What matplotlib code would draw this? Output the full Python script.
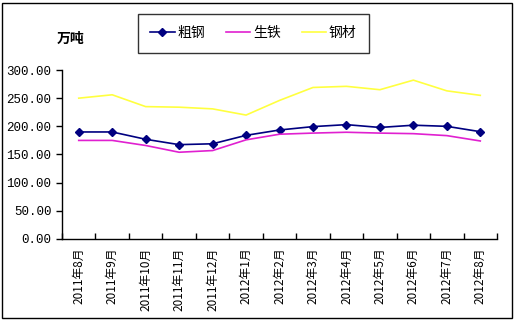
import matplotlib
matplotlib.use('Agg')
import matplotlib.pyplot as plt
from matplotlib.patches import Rectangle
from matplotlib.ticker import FixedLocator, FormatStrFormatter
import numpy as np

plt.rcParams['font.family'] = ['Noto Sans CJK SC', 'DejaVu Sans']

months = ['2011年8月', '2011年9月', '2011年10月', '2011年11月', '2011年12月',
          '2012年1月', '2012年2月', '2012年3月', '2012年4月', '2012年5月',
          '2012年6月', '2012年7月', '2012年8月']
crude_steel = [190, 190, 177, 167.5, 169, 184, 193.5, 199.5, 203, 198, 202, 200, 190.5]
pig_iron = [175, 175, 166, 154, 157, 176, 186, 188, 189.5, 188, 187, 183.5, 174]
steel_products = [250, 256, 235, 234, 231, 220, 246, 269, 271, 265, 282, 263, 255]

fig = plt.figure(figsize=(5.18, 3.22), dpi=100)
ax = fig.add_axes([0.1197, 0.2578, 0.8398, 0.5248])

x = np.arange(len(months))
ax.plot(x, crude_steel, color='#000080', lw=1.2, marker='D', ms=4.5, label='粗钢')
ax.plot(x, pig_iron, color='#E020D0', lw=1.2, label='生铁')
ax.plot(x, steel_products, color='#FFFF40', lw=1.2, label='钢材')

ax.set_xlim(-0.5, len(months) - 0.5)
ax.set_ylim(0, 300)
ax.set_yticks(np.arange(0, 301, 50))
ax.yaxis.set_major_formatter(FormatStrFormatter('%.2f'))
ax.set_xticks(x)
ax.set_xticklabels(months, rotation=90, fontsize=8.5)
ax.xaxis.set_minor_locator(FixedLocator(np.arange(-0.5, len(months), 1)))
ax.tick_params(axis='x', which='major', length=0, pad=6)
ax.tick_params(axis='x', which='minor', length=4, direction='in', width=1)
ax.tick_params(axis='y', length=4, width=1)
for lbl in ax.get_yticklabels():
    lbl.set_family('Liberation Mono')
    lbl.set_fontsize(9)
ax.spines['top'].set_visible(False)
ax.spines['right'].set_visible(False)
ax.spines['left'].set_linewidth(1)
ax.spines['bottom'].set_linewidth(1)

fig.text(0.11, 0.88, '万吨', fontsize=10, fontweight='bold', ha='left', va='center')

leg = fig.legend(loc='center', bbox_to_anchor=(0.489, 0.8975), ncol=3,
                 fontsize=10, frameon=True, fancybox=False, handlelength=1.75,
                 columnspacing=1.5, handletextpad=0.2, borderpad=0.9)
leg.get_frame().set_edgecolor('black')
leg.get_frame().set_linewidth(1)

fig.patches.append(Rectangle((0.004, 0.012), 0.985, 0.98, transform=fig.transFigure,
                             fill=False, edgecolor='black', lw=1))

fig.savefig('out.png', dpi=100)
